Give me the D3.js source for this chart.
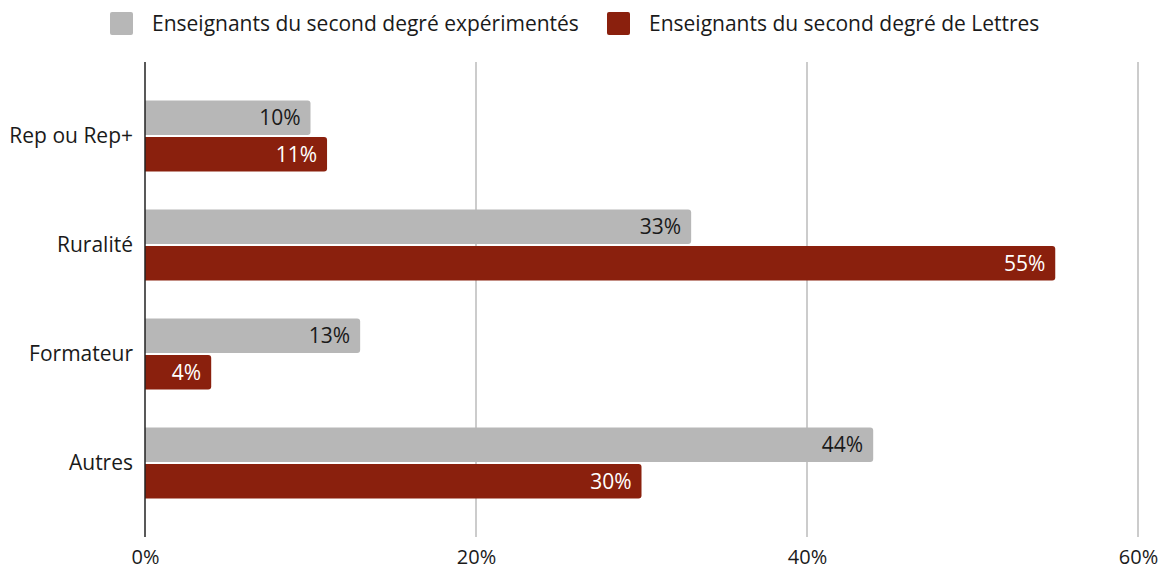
<!DOCTYPE html>
<html>
<head>
<meta charset="utf-8">
<script src="https://cdn.jsdelivr.net/npm/d3@7"></script>
<style>
  body { margin: 0; background: #fff; }
  svg { font-family: "Open Sans", sans-serif; }
</style>
</head>
<body>
<svg class="chart"></svg>
<script>
// Data.
var categories = ["Rep ou Rep+", "Ruralité", "Formateur", "Autres"];
var seriesNames = ["Enseignants du second degré expérimentés", "Enseignants du second degré de Lettres"];
var experimentes = [10, 33, 13, 44];
var lettres = [11, 55, 4, 30];
var xTicks = [0, 20, 40, 60];

var width = 1164, height = 570;
var colors = ["#b7b7b7", "#8a200d"];
var textColors = ["#1a1a1a", "#fff"];

var svg = d3.select("svg.chart").attr("width", width).attr("height", height);

var margin = { left: 145, right: 26, top: 62, bottom: 33 }; // plot area 145..1138, 62..537

var x = d3.scaleLinear().domain([0, 60]).range([margin.left, width - margin.right]);
var y = d3.scaleBand().domain(categories).range([margin.top, height - margin.bottom])
    .paddingInner(0.35).paddingOuter(0.354);
var sub = d3.scaleBand().domain([0, 1]).range([0, y.bandwidth()]).paddingInner(0.06);

// Gridlines
svg.append("g")
    .selectAll("line")
    .data(xTicks.filter(function (d) { return d > 0; }))
    .join("line")
    .attr("x1", function (d) { return x(d); })
    .attr("x2", function (d) { return x(d); })
    .attr("y1", margin.top)
    .attr("y2", height - margin.bottom)
    .attr("stroke", "#cccccc")
    .attr("stroke-width", 2);

// X axis labels
var xAxis = svg.append("g")
    .attr("transform", "translate(0," + (height - margin.bottom) + ")")
    .call(d3.axisBottom(x).tickValues(xTicks).tickSize(0).tickPadding(13).tickFormat(function (d) { return d + "%"; }));
xAxis.select(".domain").remove();
xAxis.selectAll("text").attr("font-size", 20).attr("fill", "#1a1a1a").attr("font-family", "'Open Sans', sans-serif");

// Bars
var rows = categories.map(function (c, i) { return { cat: c, vals: [experimentes[i], lettres[i]] }; });

var groups = svg.append("g").selectAll("g")
    .data(rows)
    .join("g")
    .attr("transform", function (d) { return "translate(0," + y(d.cat) + ")"; });

var bars = groups.selectAll("g")
    .data(function (d) { return d.vals.map(function (v, s) { return { v: v, s: s }; }); })
    .join("g");

bars.append("path")
    .attr("fill", function (d) { return colors[d.s]; })
    .attr("d", function (d) { // square on the left, rounded on the right
        var x0 = x(0), x1 = x(d.v), y0 = sub(d.s), h = sub.bandwidth(), r = 3;
        return "M" + x0 + "," + y0 + "H" + (x1 - r) + "Q" + x1 + "," + y0 + " " + x1 + "," + (y0 + r) +
            "V" + (y0 + h - r) + "Q" + x1 + "," + (y0 + h) + " " + (x1 - r) + "," + (y0 + h) + "H" + x0 + "Z";
    });

bars.append("text")
    .attr("x", function (d) { return x(d.v) - 10; })
    .attr("y", function (d) { return sub(d.s) + sub.bandwidth() / 2; })
    .attr("dy", "0.35em")
    .attr("text-anchor", "end")
    .attr("font-size", 21)
    .attr("fill", function (d) { return textColors[d.s]; })
    .text(function (d) { return d.v + "%"; });

// Y axis
var yAxis = svg.append("g")
    .attr("transform", "translate(" + margin.left + ",0)")
    .call(d3.axisLeft(y).tickSize(0).tickPadding(12));
yAxis.select(".domain").remove();
yAxis.selectAll("text").attr("font-size", 21).attr("fill", "#1a1a1a").attr("font-family", "'Open Sans', sans-serif");

svg.append("line")
    .attr("x1", margin.left).attr("x2", margin.left)
    .attr("y1", margin.top).attr("y2", height - margin.bottom)
    .attr("stroke", "#222").attr("stroke-width", 1.5);

// Legend
var legendX = [110, 607];
var legend = svg.append("g").selectAll("g")
    .data(seriesNames)
    .join("g")
    .attr("transform", function (d, i) { return "translate(" + legendX[i] + ",12)"; });
legend.append("rect")
    .attr("width", 23).attr("height", 23).attr("rx", 2)
    .attr("fill", function (d, i) { return colors[i]; });
legend.append("text")
    .attr("x", 42).attr("y", 12).attr("dy", "0.35em")
    .attr("font-size", 21).attr("fill", "#1a1a1a")
    .text(function (d) { return d; });
</script>
</body>
</html>
